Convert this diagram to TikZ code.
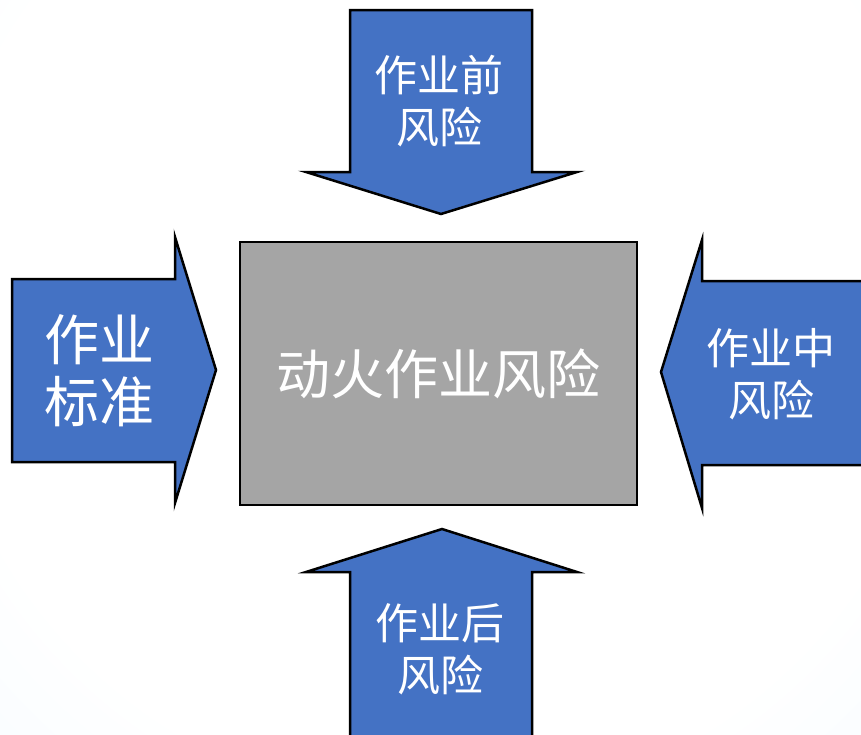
\documentclass[tikz,border=0pt]{standalone}
\usepackage{fontspec}
\setmainfont{Noto Sans CJK SC}
\usetikzlibrary{positioning,calc}
\definecolor{arrowblue}{HTML}{4472C4}
\definecolor{boxgray}{HTML}{A5A5A5}
\definecolor{bgblue}{RGB}{229,244,253}
\pgfdeclareradialshading{bgglow}{\pgfpoint{0bp}{0bp}}{color(0bp)=(white); color(20bp)=(white); color(45bp)=(bgblue); color(50bp)=(bgblue)}
\tikzset{
  riskarrow/.style={draw=black, line width=2.5pt, fill=arrowblue},
  risklabel/.style={text=white, align=center, inner sep=0pt, font=\fontsize{43}{52}\selectfont},
}

\begin{document}
\begin{tikzpicture}[x=1pt, y=-1pt, line join=miter]
\begin{scope}
\clip (0,0) rectangle (861,734);
\shade[shading=bgglow] (440,300) circle (620);
\end{scope}
\useasboundingbox (0,0) rectangle (861,734);
% centre box
\node[draw=black, line width=2.5pt, fill=boxgray, minimum width=397pt, minimum height=263pt,
      inner sep=0pt, text=white, font=\fontsize{54}{60}\selectfont] (fire) at (438.5,373.5) {动火作业风险};
% arrow shapes
\draw[riskarrow] (350,10) -- (532,10) -- (532,172) -- (577,172) -- (441,214) -- (306,172) -- (350,172) -- cycle;         % top
\draw[riskarrow] (12,279) -- (175,279) -- (175,237) -- (216,370) -- (175,503) -- (175,462) -- (12,462) -- cycle;          % left
\draw[riskarrow] (880,281) -- (702,281) -- (702,240) -- (661,372) -- (702,508) -- (702,465) -- (880,465) -- cycle;        % right
\draw[riskarrow] (350,750) -- (350,572) -- (306,572) -- (442,529) -- (577,572) -- (532,572) -- (532,750) -- cycle;        % bottom
% labels
\node[risklabel] (before) at (439,101) {作业前\\风险};
\node[risklabel, font=\fontsize{55}{62}\selectfont] (standard) at (99,371) {作业\\标准};
\node[risklabel] (during) at (771,374) {作业中\\风险};
\node[risklabel] (after) at (440,649) {作业后\\风险};
\end{tikzpicture}
\end{document}
